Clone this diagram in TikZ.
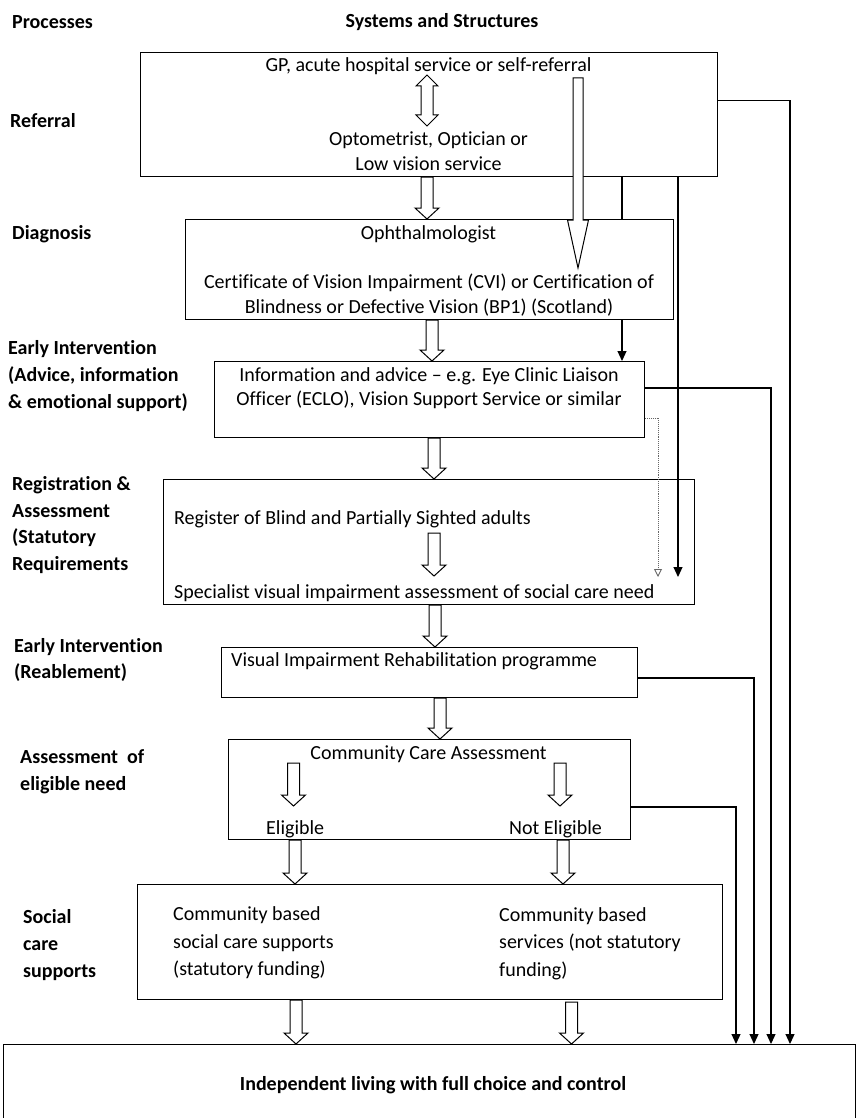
\documentclass[tikz,border=0pt]{standalone}
\usepackage{fontspec}
\setmainfont{Carlito}[Ligatures={NoCommon,TeX}]
\usetikzlibrary{arrows.meta,calc}
\newcommand{\blockarrow}[2]{%
  \draw[blk] let \p1=#1, \p2=#2 in
    (\x1-6pt,\y1) -- (\x1-6pt,\y2+11pt) -- (\x1-12pt,\y2+11pt) -- (\x1,\y2)
    -- (\x1+12pt,\y2+11pt) -- (\x1+6pt,\y2+11pt) -- (\x1+6pt,\y1) -- cycle;}
\begin{document}
\begin{tikzpicture}[x=1pt,y=-1pt,
  every node/.style={font=\fontsize{20}{24.5}\selectfont, inner sep=0pt},
  box/.style={draw, rectangle, line width=1.1pt, anchor=north west, inner sep=0pt},
  blk/.style={draw, fill=white, line width=1pt, line join=miter},
  lbl/.style={font=\bfseries\fontsize{20}{26.8}\selectfont, align=left, anchor=west},
  txt/.style={align=center},
  thin/.style={line width=1.1pt},
  tip/.style={-{Triangle[length=10pt,width=9pt]}}]
\useasboundingbox (0,0) rectangle (860,1118);

% headers
\node[lbl] (hproc) at (12,22) {Processes};
\node[font=\bfseries\fontsize{20}{24}\selectfont] (hsys) at (442,22) {Systems and Structures};

% left labels
\node[lbl] (lref) at (10,121) {Referral};
\node[lbl] (ldiag) at (12,234) {Diagnosis};
\node[lbl] (lei) at (8,376) {Early Intervention\\(Advice, information\\\& emotional support)};
\node[lbl] (lreg) at (12,525) {Registration \&\\Assessment\\(Statutory\\Requirements};
\node[lbl] (lrea) at (14,660) {Early Intervention\\(Reablement)};
\node[lbl] (lelig) at (20,771.5) {Assessment~ of\\eligible need};
\node[lbl] (lsoc) at (23,945) {Social\\care\\supports};

% boxes
\node[box, minimum width=577pt, minimum height=124pt] (ref) at (140,52) {};
\node[box, minimum width=488pt, minimum height=100pt] (diag) at (185,219) {};
\node[box, minimum width=430pt, minimum height=76pt] (info) at (214,361) {};
\node[box, minimum width=531pt, minimum height=125pt] (reg) at (163,479) {};
\node[box, minimum width=416pt, minimum height=50pt] (rehab) at (221,647) {};
\node[box, minimum width=402pt, minimum height=100pt] (cca) at (228,739) {};
\node[box, minimum width=585pt, minimum height=115pt] (soc) at (137,884) {};
\node[box, minimum width=852pt, minimum height=110pt] (final) at (3,1044) {};

% box texts
\node (gp) at (428.5,66) {GP, acute hospital service or self-referral};
\node[txt] (opt) at (428.5,151) {Optometrist, Optician or\\Low vision service};
\node (oph) at (428.5,234) {Ophthalmologist};
\node[txt] (cvi) at (429,295) {Certificate of Vision Impairment (CVI) or Certification of\\Blindness or Defective Vision (BP1) (Scotland)};
\node[txt] (inf) at (429,388) {Information and advice -- e.g. Eye Clinic Liaison\\Officer (ECLO), Vision Support Service or similar};
\node[anchor=west] (regb) at (174,519) {Register of Blind and Partially Sighted adults};
\node[anchor=west] (spec) at (174,593) {Specialist visual impairment assessment of social care need};
\node[anchor=west] (vir) at (231,661) {Visual Impairment Rehabilitation programme};
\node (ccat) at (428.5,754) {Community Care Assessment};
\node[anchor=west] (elig) at (266,829) {Eligible};
\node[anchor=west] (nelig) at (509,829) {Not Eligible};
\node[anchor=west, align=left, font=\fontsize{20}{27.5}\selectfont] (cbs) at (173,943) {Community based\\social care supports\\(statutory funding)};
\node[anchor=west, align=left, font=\fontsize{20}{27.5}\selectfont] (cbn) at (499,943.5) {Community based\\services (not statutory\\funding)};
\node[font=\bfseries\fontsize{20}{24}\selectfont] (ind) at (433,1085) {Independent living with full choice and control};

% thin connectors
\draw[thin] (622,0 |- ref.south) -- (622,0 |- diag.north);
\draw[thin,tip] (622,0 |- diag.south) -- (622,0 |- info.north);
\coordinate (regtipA) at (678,577);
\coordinate (regtipB) at (658,577);
\draw[thin,tip] (678,0 |- ref.south) -- (regtipA);
\draw[line width=0.9pt, gray!80!black, densely dotted, -{Triangle[open,length=8pt,width=8pt]}]
  (info.east |- 0,418) -| (regtipB);
\draw[thin,tip] (ref.east |- 0,100.7) -| (790,0 |- final.north);
\draw[thin,tip] (info.east |- 0,388) -| (771,0 |- final.north);
\draw[thin,tip] (rehab.east |- 0,678) -| (754,0 |- final.north);
\draw[thin,tip] (cca.east |- 0,807) -| (736,0 |- final.north);

% block arrows
\draw[blk] (427,75) -- (438,86) -- (433,86) -- (433,115) -- (438,115) -- (427,126)
  -- (416,115) -- (421,115) -- (421,86) -- (416,86) -- cycle;
\blockarrow{(427,0 |- ref.south)}{(427,0 |- diag.north)}
\blockarrow{(432,0 |- diag.south)}{(432,0 |- info.north)}
\blockarrow{(434,0 |- info.south)}{(434,0 |- reg.north)}
\blockarrow{(434,533)}{(434,576)}
\blockarrow{(435,0 |- reg.south)}{(435,0 |- rehab.north)}
\blockarrow{(440,0 |- rehab.south)}{(440,0 |- cca.north)}
\blockarrow{(293.5,763)}{(293.5,806)}
\blockarrow{(560,763)}{(560,806)}
\blockarrow{(295,0 |- cca.south)}{(295,0 |- soc.north)}
\blockarrow{(563,0 |- cca.south)}{(563,0 |- soc.north)}
\blockarrow{(296,0 |- soc.south)}{(296,0 |- final.north)}
\blockarrow{(571.5,1002)}{(571.5,0 |- final.north)}

% long block arrow from referral into diagnosis
\draw[blk] (573,78) -- (583,78) -- (583,220) -- (588.5,220) -- (578,268)
  -- (567.5,220) -- (573,220) -- cycle;
\end{tikzpicture}
\end{document}
